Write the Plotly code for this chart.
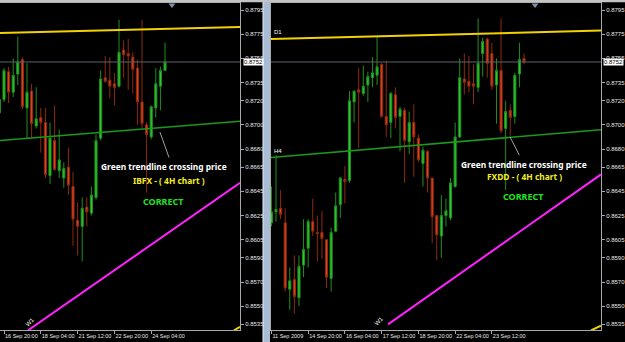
import plotly.graph_objects as go

# ---------------- DATA ----------------
# Left window: IBFX 4H, bar index 0..36
ibfx_open  = [0.8710,0.8721,0.8744,0.8727,0.8742,0.8754,0.8714,0.8728,0.8699,0.8706,0.8702,0.8658,0.8687,0.8662,0.8656,0.8665,0.8649,0.8621,0.8616,0.8632,0.8627,0.8640,0.8689,0.8739,0.8737,0.8734,0.8732,0.8762,0.8759,0.8756,0.8747,0.8719,0.8700,0.8690,0.8714,0.8732,0.8745]
ibfx_high  = [0.8723,0.8747,0.8748,0.8755,0.8773,0.8756,0.8751,0.8734,0.8731,0.8714,0.8714,0.8702,0.8716,0.8696,0.8669,0.8681,0.8661,0.8636,0.8640,0.8640,0.8649,0.8692,0.8745,0.8757,0.8756,0.8743,0.8787,0.8770,0.8771,0.8760,0.8754,0.8787,0.8702,0.8716,0.8747,0.8748,0.8768]
ibfx_low   = [0.8707,0.8719,0.8718,0.8723,0.8733,0.8713,0.8689,0.8689,0.8697,0.8677,0.8656,0.8651,0.8662,0.8656,0.8648,0.8642,0.8600,0.8592,0.8587,0.8616,0.8625,0.8638,0.8687,0.8735,0.8722,0.8716,0.8731,0.8739,0.8729,0.8726,0.8700,0.8697,0.8644,0.8688,0.8706,0.8712,0.8745]
ibfx_close = [0.8721,0.8745,0.8727,0.8741,0.8752,0.8715,0.8727,0.8701,0.8705,0.8702,0.8659,0.8689,0.8663,0.8671,0.8664,0.8650,0.8622,0.8616,0.8631,0.8628,0.8642,0.8687,0.8738,0.8736,0.8732,0.8731,0.8760,0.8758,0.8757,0.8746,0.8719,0.8701,0.8692,0.8715,0.8734,0.8745,0.8752]
ibfx_tick_bars   = [1, 9, 17, 25, 33]
ibfx_tick_labels = ["16 Sep 20:00", "18 Sep 04:00", "21 Sep 12:00", "22 Sep 20:00", "24 Sep 04:00"]

# Right window: FXDD 4H, bar index 0..55
fxdd_open  = [0.8619,0.8628,0.8631,0.8619,0.8564,0.8572,0.8557,0.8584,0.8598,0.8620,0.8611,0.8611,0.8605,0.8573,0.8612,0.8634,0.8655,0.8654,0.8719,0.8729,0.8726,0.8733,0.8739,0.8741,0.8750,0.8707,0.8702,0.8725,0.8707,0.8712,0.8686,0.8702,0.8689,0.8668,0.8678,0.8656,0.8625,0.8608,0.8625,0.8623,0.8649,0.8690,0.8738,0.8736,0.8734,0.8731,0.8759,0.8771,0.8759,0.8733,0.8745,0.8697,0.8712,0.8707,0.8742,0.8755]
fxdd_high  = [0.8649,0.8675,0.8646,0.8631,0.8582,0.8592,0.8592,0.8622,0.8622,0.8639,0.8625,0.8629,0.8605,0.8615,0.8644,0.8657,0.8666,0.8728,0.8728,0.8747,0.8749,0.8744,0.8756,0.8773,0.8751,0.8753,0.8727,0.8731,0.8715,0.8714,0.8711,0.8717,0.8692,0.8682,0.8679,0.8656,0.8625,0.8642,0.8639,0.8656,0.8702,0.8755,0.8759,0.8757,0.8750,0.8788,0.8772,0.8772,0.8768,0.8755,0.8788,0.8720,0.8717,0.8743,0.8768,0.8759]
fxdd_low   = [0.8616,0.8620,0.8622,0.8562,0.8547,0.8544,0.8550,0.8574,0.8582,0.8608,0.8587,0.8589,0.8565,0.8562,0.8611,0.8623,0.8635,0.8652,0.8702,0.8681,0.8724,0.8719,0.8731,0.8733,0.8706,0.8690,0.8689,0.8697,0.8678,0.8652,0.8676,0.8657,0.8669,0.8649,0.8644,0.8602,0.8588,0.8590,0.8616,0.8621,0.8648,0.8689,0.8725,0.8727,0.8717,0.8727,0.8740,0.8739,0.8729,0.8701,0.8693,0.8646,0.8691,0.8701,0.8731,0.8750]
fxdd_close = [0.8628,0.8630,0.8626,0.8565,0.8571,0.8558,0.8583,0.8597,0.8620,0.8612,0.8610,0.8606,0.8574,0.8611,0.8633,0.8656,0.8653,0.8720,0.8728,0.8727,0.8732,0.8740,0.8743,0.8748,0.8707,0.8700,0.8726,0.8706,0.8713,0.8687,0.8702,0.8690,0.8671,0.8679,0.8656,0.8624,0.8609,0.8625,0.8629,0.8652,0.8690,0.8739,0.8735,0.8732,0.8732,0.8751,0.8769,0.8751,0.8732,0.8745,0.8695,0.8711,0.8706,0.8741,0.8754,0.8752]
fxdd_tick_bars   = [0, 8, 16, 24, 32, 40, 48]
fxdd_tick_labels = ["11 Sep 2009", "14 Sep 20:00", "16 Sep 04:00", "17 Sep 12:00", "18 Sep 20:00", "22 Sep 04:00", "23 Sep 12:00"]

price_ticks = [0.8795, 0.8775, 0.8755, 0.8735, 0.8720, 0.8700, 0.8680, 0.8665,
               0.8645, 0.8625, 0.8605, 0.8590, 0.8570, 0.8550, 0.8535]
bid_price = 0.8752

# Trendlines: (bar index, price) end points
ibfx_d1_x, ibfx_d1_y = [0.13, 52.3], [0.8776, 0.8781]
ibfx_h4_x, ibfx_h4_y = [0.13, 52.3], [0.8687, 0.8703]
ibfx_w1_x, ibfx_w1_y = [6.22, 52.3], [0.8530, 0.8652]
ibfx_mn_x, ibfx_mn_y = [51.0, 52.3], [0.8530, 0.8533]
ibfx_ptr_x, ibfx_ptr_y = [34.9, 36.87], [0.8694, 0.8673]

fxdd_d1_x, fxdd_d1_y = [-0.09, 71.76], [0.8771, 0.8778]
fxdd_h4_x, fxdd_h4_y = [-0.09, 71.76], [0.8673, 0.8696]
fxdd_w1_x, fxdd_w1_y = [25.39, 71.76], [0.8535, 0.8659]
fxdd_mn_x, fxdd_mn_y = [69.58, 71.76], [0.8530, 0.8534]
fxdd_ptr_x, fxdd_ptr_y = [51.95, 53.97], [0.8690, 0.8675]

# ---------------- FIGURE ----------------
W, H = 625, 342
YR = [0.85303, 0.88008]
ydom = [1 - 330 / H, 1 - 3 / H]
XR_L = [0.13, 52.3]
XR_R = [-0.09, 71.76]

UP_LINE, UP_FILL = "#1f8f1f", "#2ccc2c"
DN_LINE, DN_FILL = "#8c2a10", "#e4421c"
YEL, GRN, MAG = "#f2d200", "#1a9a1a", "#ff22ff"
TXT = "#e8e8e8"
FR = "#a8a8a8"

fig = go.Figure()

def candles(xs, o, h, l, c, xa, ya):
    fig.add_trace(go.Candlestick(
        x=xs, open=o, high=h, low=l, close=c, xaxis=xa, yaxis=ya,
        increasing=dict(line=dict(color=UP_LINE, width=1), fillcolor=UP_FILL),
        decreasing=dict(line=dict(color=DN_LINE, width=1), fillcolor=DN_FILL),
        whiskerwidth=0, hoverinfo="skip", showlegend=False))

def line(xs, ys, color, width, xa, ya):
    fig.add_trace(go.Scatter(x=xs, y=ys, mode="lines", xaxis=xa, yaxis=ya,
                             line=dict(color=color, width=width),
                             hoverinfo="skip", showlegend=False))

# left window
line(XR_L, [bid_price, bid_price], "#5c636c", 1, "x", "y")
line(ibfx_d1_x, ibfx_d1_y, YEL, 2, "x", "y")
line(ibfx_h4_x, ibfx_h4_y, GRN, 1.6, "x", "y")
line(ibfx_w1_x, ibfx_w1_y, MAG, 2, "x", "y")
line(ibfx_mn_x, ibfx_mn_y, YEL, 2, "x", "y")
candles(list(range(len(ibfx_open))), ibfx_open, ibfx_high, ibfx_low, ibfx_close, "x", "y")
line(ibfx_ptr_x, ibfx_ptr_y, "#c8c8c8", 0.8, "x", "y")

# right window
line(XR_R, [bid_price, bid_price], "#5c636c", 1, "x2", "y2")
line(fxdd_d1_x, fxdd_d1_y, YEL, 2, "x2", "y2")
line(fxdd_h4_x, fxdd_h4_y, GRN, 1.6, "x2", "y2")
line(fxdd_w1_x, fxdd_w1_y, MAG, 2, "x2", "y2")
line(fxdd_mn_x, fxdd_mn_y, YEL, 2, "x2", "y2")
candles(list(range(len(fxdd_open))), fxdd_open, fxdd_high, fxdd_low, fxdd_close, "x2", "y2")
line(fxdd_ptr_x, fxdd_ptr_y, "#c8c8c8", 0.8, "x2", "y2")

# chart-shift markers at the top
fig.add_trace(go.Scatter(x=[37.5], y=[0.87992], mode="markers", xaxis="x", yaxis="y",
                         marker=dict(symbol="triangle-down", size=6, color="#7f90a8"),
                         cliponaxis=False, hoverinfo="skip", showlegend=False))
fig.add_trace(go.Scatter(x=[57.4], y=[0.87992], mode="markers", xaxis="x2", yaxis="y2",
                         marker=dict(symbol="triangle-down", size=6, color="#7f90a8"),
                         cliponaxis=False, hoverinfo="skip", showlegend=False))

xtickfont = dict(family="Liberation Sans", size=5.5, color=TXT)
ytickfont = dict(family="Liberation Sans", size=6, color=TXT)
price_text = [f"{p:.4f}" for p in price_ticks]

def xax(dom, rng, tv, tt, anchor):
    return dict(domain=dom, range=rng, anchor=anchor, showgrid=False, zeroline=False,
                showline=True, linecolor=FR, linewidth=1, mirror=True,
                ticks="outside", ticklen=3, tickcolor=FR, tickvals=tv, ticktext=tt,
                ticklabelposition="outside right", tickangle=0, tickfont=xtickfont,
                rangeslider=dict(visible=False), automargin=False, fixedrange=True)

def yax(anchor):
    return dict(domain=ydom, range=YR, anchor=anchor, side="right", showgrid=False,
                zeroline=False, showline=True, linecolor=FR, linewidth=1, mirror=True,
                ticks="outside", ticklen=3, tickcolor=FR, tickvals=price_ticks,
                ticktext=price_text, tickfont=ytickfont, automargin=False, fixedrange=True)

fig.update_layout(
    width=W, height=H, margin=dict(l=0, r=0, t=0, b=0),
    paper_bgcolor="#000000", plot_bgcolor="#000000",
    showlegend=False, hovermode=False, boxgap=0.35,
    xaxis=xax([0, 240 / W], XR_L, ibfx_tick_bars, ibfx_tick_labels, "y"),
    yaxis=yax("x"),
    xaxis2=xax([271 / W, 601 / W], XR_R, fxdd_tick_bars, fxdd_tick_labels, "y2"),
    yaxis2=yax("x2"),
)

# window frame pieces
fig.add_shape(type="rect", xref="paper", yref="paper", x0=263 / W, x1=270 / W, y0=0, y1=1,
              fillcolor="#a9bcd6", line=dict(width=0), layer="above")
fig.add_shape(type="line", xref="paper", yref="paper", x0=263 / W, x1=263 / W, y0=0, y1=1,
              line=dict(color="#e8eef6", width=1))
fig.add_shape(type="rect", xref="paper", yref="paper", x0=0, x1=1, y0=1 - 2.2 / H, y1=1,
              fillcolor="#c4c4c4", line=dict(width=0), layer="above")

anns = []
def txt(px, py, s, color, size):
    anns.append(dict(x=px / W, y=1 - py / H, xref="paper", yref="paper", text=f"<b>{s}</b>",
                     showarrow=False, xanchor="center", yanchor="middle",
                     font=dict(family="Noto Sans", size=size, color=color)))

txt(164, 166, "Green trendline crossing price", "#ffffff", 8.4)
txt(168.5, 180, "IBFX - ( 4H chart )", "#f4ee22", 8.4)
txt(163.5, 201, "CORRECT", "#22e022", 9)
txt(524, 165, "Green trendline crossing price", "#ffffff", 8.4)
txt(524, 176, "FXDD - ( 4H chart )", "#f4ee22", 8.4)
txt(523.5, 196, "CORRECT", "#22e022", 9)

# bid price boxes
for xp, ya in [(243, "y"), (603, "y2")]:
    anns.append(dict(x=xp / W, y=bid_price, xref="paper", yref=ya, text=f"{bid_price:.4f}",
                     showarrow=False, xanchor="left", yanchor="middle", bgcolor="#ffffff",
                     borderpad=0, font=dict(family="Liberation Sans", size=6, color="#000000")))

# object labels
small = dict(family="Liberation Sans", size=6, color="#ffffff")
anns.append(dict(x=0.2, y=0.8777, xref="x2", yref="y2", text="D1", showarrow=False,
                 xanchor="left", yanchor="middle", font=small))
anns.append(dict(x=0.2, y=0.8678, xref="x2", yref="y2", text="H4", showarrow=False,
                 xanchor="left", yanchor="middle", font=small))
anns.append(dict(x=6.6, y=0.8537, xref="x", yref="y", text="W1", showarrow=False,
                 textangle=-45, xanchor="center", yanchor="middle", font=small))
anns.append(dict(x=23.4, y=0.8538, xref="x2", yref="y2", text="W1", showarrow=False,
                 textangle=-45, xanchor="center", yanchor="middle", font=small))
fig.update_layout(annotations=anns)

fig.write_html("out.html")
